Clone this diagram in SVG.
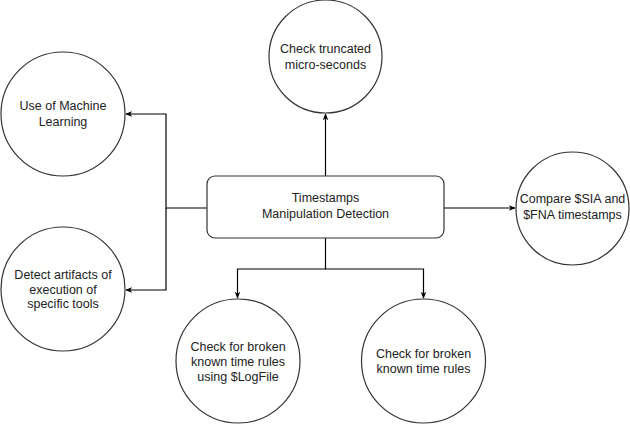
<svg xmlns="http://www.w3.org/2000/svg" width="630" height="424" viewBox="0 0 630 424">
<defs>
<style>
.n{fill:#fff;stroke:#333;stroke-width:1.2}
.t{font-family:"Liberation Sans",Arial,sans-serif;font-size:12.5px;fill:#222;text-anchor:middle}
.c{fill:none;stroke:#000;stroke-width:1.2}
</style>
<marker id="a" viewBox="0 0 10 10" refX="9" refY="5" markerWidth="7" markerHeight="7" orient="auto" markerUnits="userSpaceOnUse">
<path d="M0,1 L10,5 L0,9 L3,5 Z" fill="#000"/>
</marker>
</defs>
<rect width="630" height="424" fill="#fff"/>
<g id="connectors">
<path class="c" d="M325.5,176 V114" marker-end="url(#a)"/>
<path class="c" d="M207,208 H166 V114 H126" marker-end="url(#a)"/>
<path class="c" d="M166,208 V290 H126" marker-end="url(#a)"/>
<path class="c" d="M444,208 H515" marker-end="url(#a)"/>
<path class="c" d="M325.5,238 V269 H237.5 V298" marker-end="url(#a)"/>
<path class="c" d="M325.5,269 H423.5 V298" marker-end="url(#a)"/>
</g>
<g id="main">
<rect class="n" x="207" y="176" width="237" height="62" rx="8"/>
<text class="t" x="325.5" y="202">Timestamps</text>
<text class="t" x="325.5" y="218">Manipulation Detection</text>
</g>
<g id="truncated">
<circle class="n" cx="325.5" cy="56.5" r="56.5"/>
<text class="t" x="325.5" y="53">Check truncated</text>
<text class="t" x="325.5" y="69">micro-seconds</text>
</g>
<g id="ml">
<circle class="n" cx="63" cy="114" r="62"/>
<text class="t" x="63" y="110">Use of Machine</text>
<text class="t" x="63" y="126">Learning</text>
</g>
<g id="artifacts">
<circle class="n" cx="63" cy="289" r="62"/>
<text class="t" x="63" y="279">Detect artifacts of</text>
<text class="t" x="63" y="294">execution of</text>
<text class="t" x="63" y="308">specific tools</text>
</g>
<g id="compare">
<circle class="n" cx="572.5" cy="208.5" r="56.5"/>
<text class="t" x="572.5" y="203">Compare $SIA and</text>
<text class="t" x="572.5" y="219">$FNA timestamps</text>
</g>
<g id="logfile">
<circle class="n" cx="238" cy="361" r="62"/>
<text class="t" x="238" y="351">Check for broken</text>
<text class="t" x="238" y="366">known time rules</text>
<text class="t" x="238" y="381">using $LogFile</text>
</g>
<g id="broken">
<circle class="n" cx="423.5" cy="361" r="62"/>
<text class="t" x="423.5" y="358">Check for broken</text>
<text class="t" x="423.5" y="373">known time rules</text>
</g>
</svg>
